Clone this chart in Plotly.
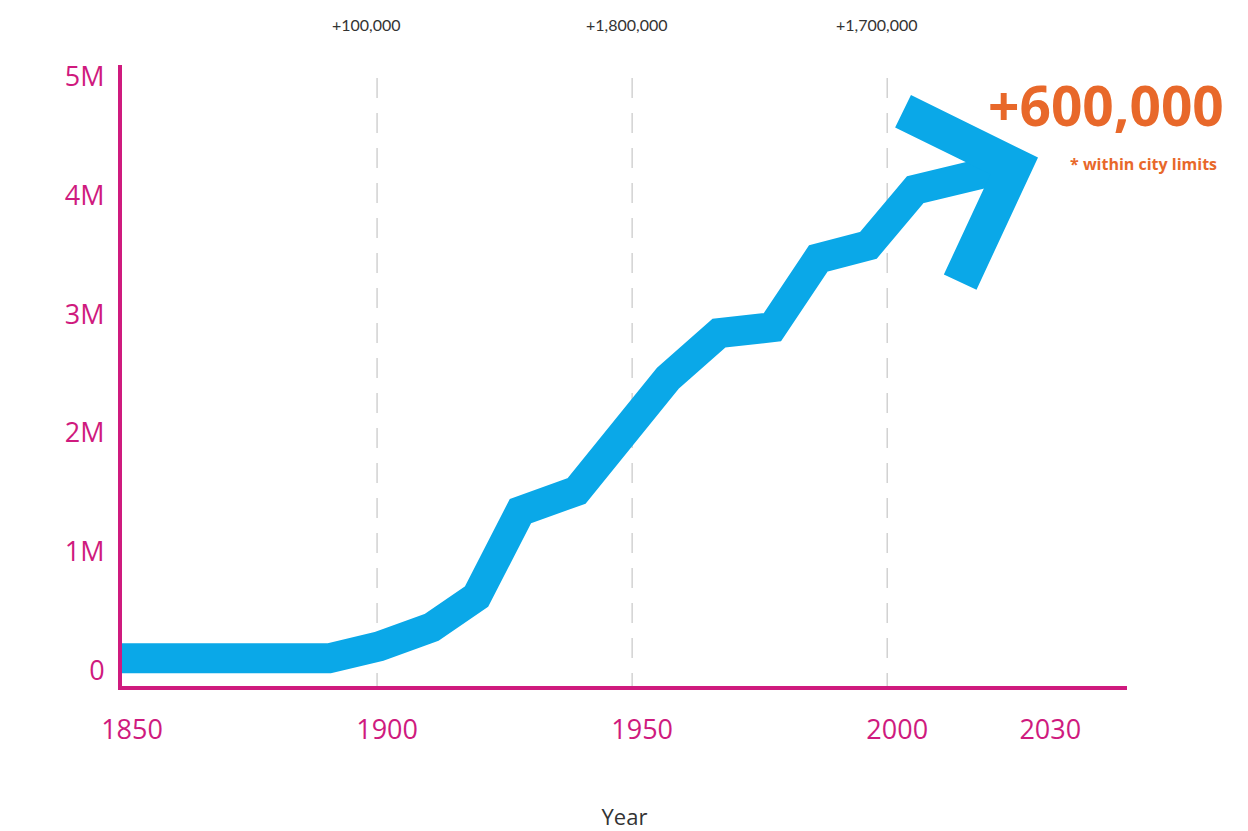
import plotly.graph_objects as go

# population curve (years, people)
years = [1850, 1890.6, 1900.4, 1910.7, 1919.5, 1928.1, 1939.1, 1957.0, 1967.0, 1977.5, 1986.5, 1996.3, 2005.5, 2024.9]
population = [100000, 100000, 200000, 360000, 620000, 1340000, 1510000, 2460000, 2840000, 2890000, 3470000, 3580000, 4050000, 4250000]

# arrow head wings (the tip is the last point of the curve)
wing_years = [2003.1, 2014.3]
wing_population = [4710000, 3270000]

x_ticks = [1850, 1900, 1950, 2000, 2030]
y_ticks = [0, 1000000, 2000000, 3000000, 4000000, 5000000]
y_labels = ["0", "1M", "2M", "3M", "4M", "5M"]

growth_years = [1898, 1949, 1998]
growth_labels = ["+100,000", "+1,800,000", "+1,700,000"]
guide_years = [1900, 1950, 2000]

magenta = "#cf1a7e"
blue = "#0aa8e8"
orange = "#e8682a"

fig = go.Figure()

fig.add_trace(go.Scatter(x=years, y=population, mode="lines",
                         line=dict(color=blue, width=30), hoverinfo="skip"))
fig.add_trace(go.Scatter(x=[wing_years[0], years[-1], wing_years[1]],
                         y=[wing_population[0], population[-1], wing_population[1]],
                         mode="lines", line=dict(color=blue, width=36), hoverinfo="skip"))

# dashed guides, drawn top-down so the dash pattern starts at the top
for yr in guide_years:
    fig.add_shape(type="line", x0=yr, x1=yr, xref="x", y0=0.979, y1=0, yref="paper",
                  line=dict(color="#d2d2d2", width=1.5, dash="20px,15px"), layer="below")

for yr, txt in zip(growth_years, growth_labels):
    fig.add_annotation(x=yr, y=1.066, xref="x", yref="paper", text=txt, showarrow=False,
                       xanchor="center", yanchor="middle",
                       font=dict(family="Lato", size=16, color="#333333"))

fig.add_annotation(x=0.979, y=0.936, xref="paper", yref="paper", text="<b>+600,000</b>",
                   showarrow=False, xanchor="center", yanchor="middle",
                   font=dict(family="Open Sans", size=55, color=orange))
fig.add_annotation(x=1.016, y=0.84, xref="paper", yref="paper", text="<b>* within city limits</b>",
                   showarrow=False, xanchor="center", yanchor="middle",
                   font=dict(family="Open Sans", size=16, color=orange))

fig.update_xaxes(range=[1850, 2047], tickvals=x_ticks, showgrid=False, zeroline=False,
                 showline=True, linecolor=magenta, linewidth=4,
                 ticks="outside", ticklen=17, tickcolor="rgba(0,0,0,0)", ticklabelshift=10,
                 tickfont=dict(family="Open Sans", size=27, color=magenta),
                 title=dict(text="Year", standoff=64, font=dict(family="Open Sans", size=22, color="#333333")))
fig.update_yaxes(range=[-134000, 5100000], tickvals=y_ticks, ticktext=y_labels,
                 showgrid=False, zeroline=False,
                 showline=True, linecolor=magenta, linewidth=4,
                 ticks="outside", ticklen=8, tickcolor="rgba(0,0,0,0)",
                 tickfont=dict(family="Open Sans", size=27, color=magenta))

fig.update_layout(width=1248, height=831, showlegend=False,
                  margin=dict(l=114, r=129, t=57, b=151),
                  paper_bgcolor="white", plot_bgcolor="white")

fig.write_html("out.html")
